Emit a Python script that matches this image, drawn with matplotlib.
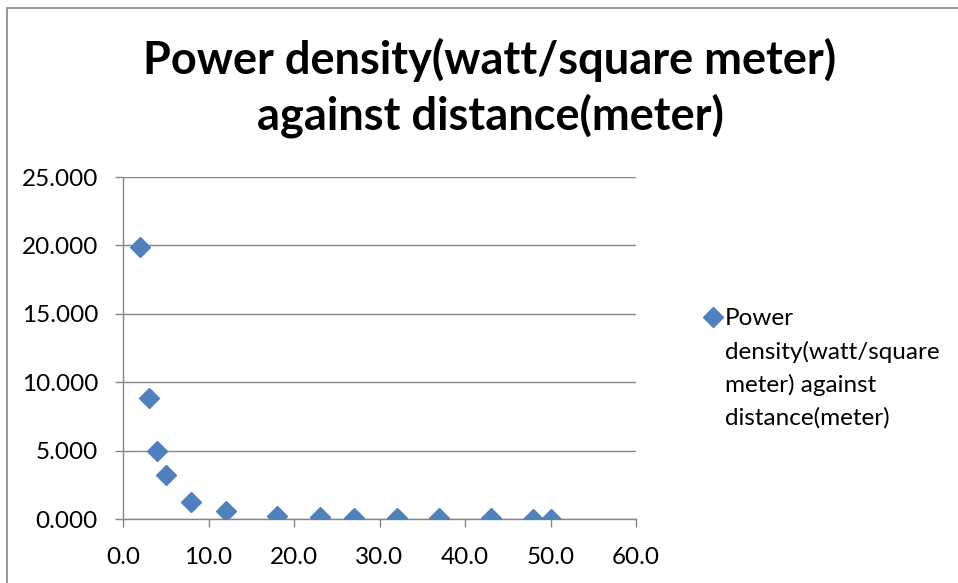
import matplotlib
matplotlib.use("Agg")
import matplotlib.pyplot as plt
from matplotlib.patches import Rectangle
from matplotlib.ticker import FormatStrFormatter, MultipleLocator

plt.rcParams['font.family'] = ['Lato', 'DejaVu Sans']

# distance (meter) and power density (watt/square meter)
distance = [2, 3, 4, 5, 8, 12, 18, 23, 27, 32, 37, 43, 48, 50]
power_density = [19.9, 8.84, 4.97, 3.18, 1.24, 0.553, 0.246, 0.150,
                 0.109, 0.078, 0.058, 0.043, 0.035, 0.032]
series_name = "Power\ndensity(watt/square\nmeter) against\ndistance(meter)"
title = "Power density(watt/square meter)\nagainst distance(meter)"

grey = '#868686'
blue = '#4F81BD'

fig = plt.figure(figsize=(9.58, 5.83), dpi=100)
ax = fig.add_axes([123/958, 64/583, 513/958, 342/583])

# outer chart border
fig.add_artist(Rectangle((7/958, -0.2), 1.2, (583-8)/583 + 0.2,
                         transform=fig.transFigure, fill=False,
                         edgecolor=grey, lw=1.2))

pts, = ax.plot(distance, power_density, linestyle='none', marker='D',
               markersize=10, color=blue, label=series_name, zorder=3)

ax.set_xlim(0, 60)
ax.set_ylim(0, 25)
ax.xaxis.set_major_locator(MultipleLocator(10))
ax.yaxis.set_major_locator(MultipleLocator(5))
ax.xaxis.set_major_formatter(FormatStrFormatter('%.1f'))
ax.yaxis.set_major_formatter(FormatStrFormatter('%.3f'))
ax.grid(axis='y', color=grey, lw=1.0)
ax.set_axisbelow(True)
for s in ['top', 'right']:
    ax.spines[s].set_visible(False)
for s in ['left', 'bottom']:
    ax.spines[s].set_color(grey)
    ax.spines[s].set_linewidth(1.0)
ax.tick_params(axis='both', direction='out', length=6, width=1.0,
               color=grey, labelsize=17.5, labelcolor='black')
ax.tick_params(axis='y', pad=12)
ax.tick_params(axis='x', pad=14)

fig.text(490/958, 1 - 88/583, title, ha='center', va='center',
         fontsize=32.5, fontweight='bold', linespacing=1.32)

leg = ax.legend(handles=[pts], loc='upper left',
                bbox_to_anchor=(703/958, 1 - 308/583),
                bbox_transform=fig.transFigure, frameon=False,
                fontsize=17.5, handlelength=0.8, handletextpad=0.1,
                borderpad=0, borderaxespad=0, labelspacing=0)
for t in leg.get_texts():
    t.set_linespacing(1.64)
try:
    for col in leg._legend_handle_box.get_children():
        for item in col.get_children():
            item.align = 'top'
except Exception:
    pass

fig.savefig('out.png', dpi=100)
